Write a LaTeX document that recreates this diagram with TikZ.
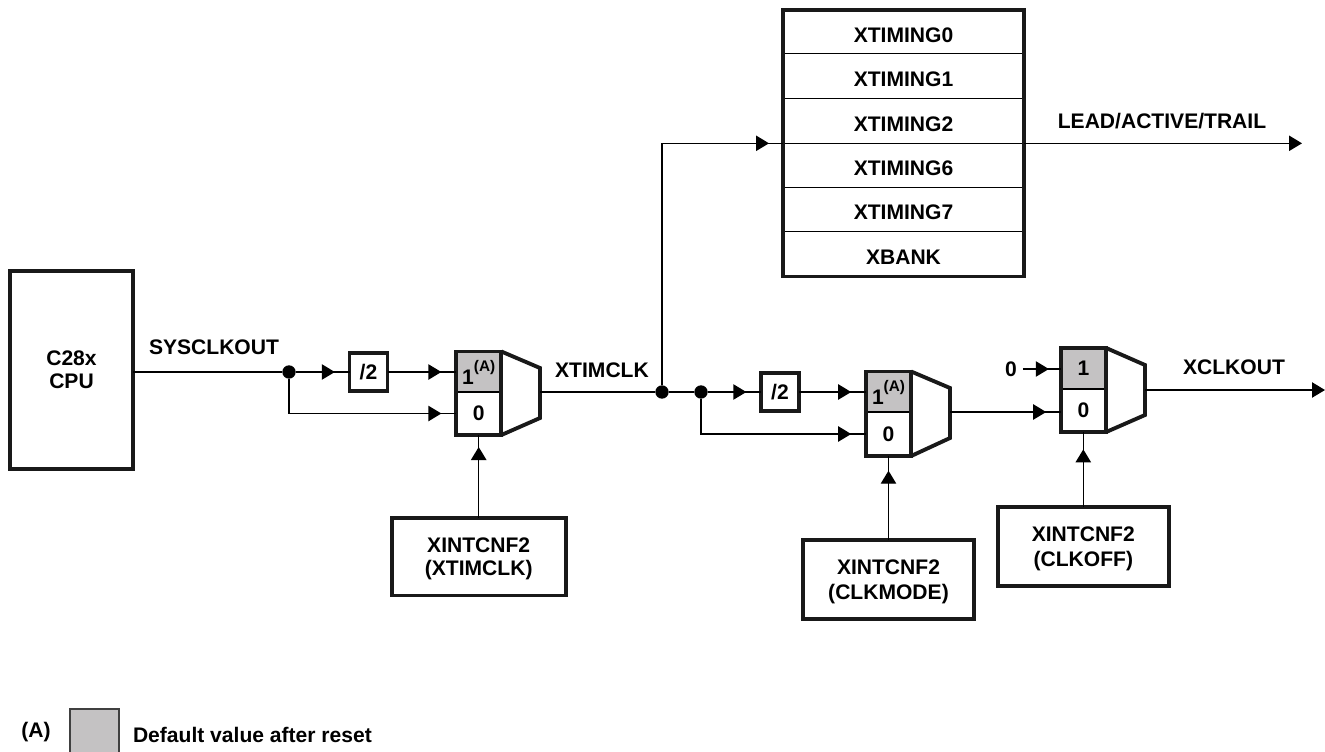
\documentclass[tikz,border=0pt]{standalone}
\usepackage{fontspec}
\setmainfont{Liberation Sans}
\usetikzlibrary{arrows.meta}
\usetikzlibrary{decorations.markings}
\definecolor{defgray}{HTML}{C4C2C3}

\begin{document}
\begin{tikzpicture}[
  x=0.75pt,y=-0.75pt,
  every node/.style={font=\fontsize{15.8}{17.5}\selectfont\bfseries,align=center,outer sep=0pt,inner sep=0pt},
  wire/.style={draw=black,line width=1pt},
  heavy/.style={draw=black!90,line width=2.9pt,line join=miter},
  ltip/.tip={Triangle[length=9.75pt,width=11.5pt]},
  tipat/.style={postaction={decorate},decoration={markings,mark=at position #1 with {\arrow{ltip}}}},
  endtip/.style={-{ltip}},
  box/.style={heavy,draw,fill=white},
  cfg/.style={box,text depth=0pt},
  row/.style={wire,draw,minimum width=180.75pt,text height=15.7pt,text depth=0pt},
  cellhi/.style={wire,draw,fill=defgray,minimum width=34pt,minimum height=#1},
  celllo/.style={wire,draw,fill=white,minimum width=34pt,minimum height=#1},
  dot/.style={circle,fill=black,minimum size=10pt},
  label/.style={}]

  \useasboundingbox (0,0) rectangle (1325,751);

  % register table
  \foreach \name/\i/\y/\h in {XTIMING0/0/31.75/43.5,XTIMING1/1/76.1/45.2,XTIMING2/2/121/44.6,XTIMING6/3/165.3/44,XTIMING7/4/209.5/44.4,XBANK/5/254.1/44.8}{
    \node[row,minimum height={\h*0.75pt}] (row\i) at (903.5,\y) {\name};
  }
  \draw[heavy] (row0.north west) rectangle (row5.south east);

  \node[box,minimum width=92.25pt,minimum height=148.5pt] (cpu) at (71.5,370) {C28x\\CPU};
  \node[box,minimum width=28.5pt,minimum height=28.5pt] (divA) at (368.5,372) {/2};
  \node[box,minimum width=28.5pt,minimum height=28.5pt] (divB) at (780,392) {/2};

  % first mux
  \node[cellhi=30.75pt] (muxAhi) at (478.7,372) {1\raisebox{.62em}{\fontsize{11.5}{12}\selectfont (A)}};
  \node[celllo=32.25pt] (muxAlo) at (478.7,413.5) {0};
  \draw[heavy] (muxAhi.north west) rectangle (muxAlo.south east);
  \draw[heavy] (muxAhi.north east) -- (540,368) -- (540,418) -- (muxAlo.south east);
  \coordinate (muxAout) at (540,392);

  % second mux
  \node[cellhi=30.75pt] (muxBhi) at (888.5,392) {1\raisebox{.62em}{\fontsize{11.5}{12}\selectfont (A)}};
  \node[celllo=33pt] (muxBlo) at (888.5,434) {0};
  \draw[heavy] (muxBhi.north west) rectangle (muxBlo.south east);
  \draw[heavy] (muxBhi.north east) -- (950,388) -- (950,438) -- (muxBlo.south east);
  \coordinate (muxBout) at (950,412);

  % third mux
  \node[cellhi=30.75pt] (muxChi) at (1083.5,368.5) {1};
  \node[celllo=32.25pt] (muxClo) at (1083.5,410.5) {0};
  \draw[heavy] (muxChi.north west) rectangle (muxClo.south east);
  \draw[heavy] (muxChi.north east) -- (1145,365) -- (1145,415) -- (muxClo.south east);
  \coordinate (muxCout) at (1145,390);

  \node[cfg,minimum width=130.5pt,minimum height=58.35pt] (cfgA) at (478.7,556.6) {XINTCNF2\\(XTIMCLK)};
  \node[cfg,minimum width=128.25pt,minimum height=59pt] (cfgB) at (888.5,579.7) {XINTCNF2\\[1.5pt](CLKMODE)};
  \node[cfg,minimum width=128pt,minimum height=59.25pt] (cfgC) at (1083.3,546.5) {XINTCNF2\\[1.5pt](CLKOFF)};

  \node[dot] (dotA) at (289,372) {};
  \node[dot] (dotB) at (662,392) {};
  \node[dot] (dotC) at (701,392) {};

  \coordinate (leadout) at (1302,143.3);
  \coordinate (clkout) at (1325,390);

  \draw[wire] (cpu.east |- dotA) -- (dotA);
  \draw[wire,tipat=-11pt] (dotA) -- (divA.west);
  \draw[wire,tipat=-11pt] (divA.east) -- (muxAhi.west);
  \draw[wire,tipat=-11pt] (dotA) |- (muxAlo.west);
  \draw[wire,tipat=-9pt] (cfgA.north) -- (cfgA.north |- muxAlo.south);
  \draw[wire] (muxAout) -- (dotB);
  \draw[wire] (dotB) -- (dotC);
  \draw[wire,tipat=-10.5pt] (dotB) |- (row2.south west);
  \draw[wire,endtip] (row2.south east) -- (leadout);
  \draw[wire,tipat=-11pt] (dotC) -- (divB.west);
  \draw[wire,tipat=-11pt] (divB.east) -- (muxBhi.west);
  \draw[wire,tipat=-11pt] (dotC) |- (muxBlo.west);
  \draw[wire,tipat=-11pt] (muxBout) -- (muxClo.west |- muxBout);
  \draw[wire,tipat=-11pt] (cfgB.north) -- (cfgB.north |- muxBlo.south);
  \draw[wire,tipat=-13pt] (cfgC.north) -- (cfgC.north |- muxClo.south);
  \draw[wire,endtip] (muxCout) -- (clkout);

  \node (zero) at (1011,369) {0};
  \draw[wire,tipat=-9pt] (zero.east) ++(6,0) coordinate (zerostart) -- (muxChi.west |- zero);

  % labels
  \node[label] (sysclk) at (214,347) {SYSCLKOUT};
  \node[label] (xtimclk) at (602,370) {XTIMCLK};
  \node[label] (lead) at (1162,121) {LEAD/ACTIVE/TRAIL};
  \node[label] (xclkout) at (1234,367) {XCLKOUT};

  % legend
  \node[draw=black!75,line width=1pt,fill=defgray,minimum width=36.75pt,minimum height=45pt] (legbox) at (94.5,739) {};
  \node[label] (legA) at (36,732) {(A)};
  \node[label,anchor=west] (legtext) at (133,735) {Default value after reset};
\end{tikzpicture}
\end{document}
